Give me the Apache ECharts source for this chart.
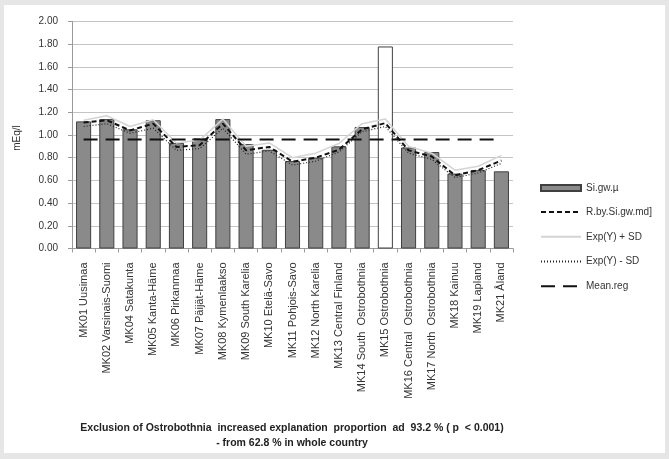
<!DOCTYPE html>
<html>
<head>
<meta charset="utf-8">
<script src="https://cdn.jsdelivr.net/npm/echarts@6/dist/echarts.min.js"></script>
<style>
    html, body { margin: 0; padding: 0; background: #e6e6e6; width: 669px; height: 459px; overflow: hidden; }
    #chart { position: absolute; left: 4px; top: 5px; width: 661px; height: 448px; background: #ffffff; }
</style>
</head>
<body>
<div id="chart"></div>
<script>
// 数据
const regions = ['MK01 Uusimaa', 'MK02 Varsinais-Suomi', 'MK04 Satakunta', 'MK05 Kanta-Häme', 'MK06 Pirkanmaa',
    'MK07 Päijät-Häme', 'MK08 Kymenlaakso', 'MK09 South Karelia', 'MK10 Etelä-Savo', 'MK11 Pohjois-Savo',
    'MK12 North Karelia', 'MK13 Central Finland', 'MK14 South  Ostrobothnia', 'MK15 Ostrobothnia',
    'MK16 Central  Ostrobothnia', 'MK17 North  Ostrobothnia', 'MK18 Kainuu', 'MK19 Lapland', 'MK21 Åland'];
const siGwMean = [1.12, 1.14, 1.05, 1.13, 0.93, 0.97, 1.14, 0.92, 0.87, 0.77, 0.80, 0.90, 1.07, 1.78, 0.89, 0.85, 0.66, 0.69, 0.68];
const regBySiGw = [1.11, 1.13, 1.04, 1.10, 0.895, 0.91, 1.10, 0.865, 0.895, 0.765, 0.80, 0.87, 1.05, 1.105, 0.865, 0.81, 0.645, 0.69, 0.775];
const expPlusSd = [1.13, 1.17, 1.075, 1.135, 0.93, 0.955, 1.14, 0.90, 0.93, 0.80, 0.84, 0.925, 1.10, 1.14, 0.90, 0.84, 0.69, 0.725, 0.82];
const expMinusSd = [1.075, 1.10, 1.015, 1.06, 0.865, 0.88, 1.06, 0.83, 0.86, 0.735, 0.77, 0.85, 1.03, 1.075, 0.84, 0.785, 0.625, 0.665, 0.75];
const meanReg = regions.map(() => 0.96);
const excluded = 'MK15 Ostrobothnia';

document.addEventListener('DOMContentLoaded', function() {
    const chart = echarts.init(document.getElementById('chart'));
    const baseFont = 'Liberation Sans';

    const barData = siGwMean.map((v, i) => {
        if (regions[i] === excluded) {
            return { value: v, itemStyle: { color: '#ffffff' } };
        }
        return v;
    });

    // 图例中线条只画线，不画圆点
    const noDot = { opacity: 0 };

    const option = {
        animation: false,
        textStyle: { fontFamily: baseFont },
        grid: { left: 68, top: 16.5, width: 441, height: 227 },
        legend: {
            orient: 'vertical',
            left: 536,
            top: 178,
            padding: 0,
            itemWidth: 40,
            itemHeight: 14,
            itemGap: 13.5,
            textStyle: { fontSize: 10, color: '#333', fontFamily: baseFont },
            data: [
                { name: 'Si.gw.µ', icon: 'path://M0,0 H40 V6 H0 Z' },
                { name: 'R.by.Si.gw.md]', itemStyle: noDot },
                { name: 'Exp(Y) + SD', itemStyle: noDot },
                { name: 'Exp(Y) - SD', itemStyle: noDot },
                { name: 'Mean.reg', itemStyle: noDot }
            ]
        },
        xAxis: {
            type: 'category',
            data: regions,
            axisLine: { lineStyle: { color: '#9a9a9a' } },
            axisTick: { show: true, length: 4, lineStyle: { color: '#9a9a9a' } },
            axisLabel: { rotate: 90, interval: 0, fontSize: 11, margin: 14, color: '#333' }
        },
        yAxis: {
            type: 'value',
            min: 0,
            max: 2,
            interval: 0.2,
            name: 'mEq/l',
            nameLocation: 'middle',
            nameGap: 50,
            nameTextStyle: { fontSize: 10, color: '#333', padding: [0, 0, 0, -6] },
            axisLine: { show: true, lineStyle: { color: '#9a9a9a' } },
            axisTick: { show: true, length: 4, lineStyle: { color: '#9a9a9a' } },
            axisLabel: { fontSize: 10, color: '#333', margin: 14, formatter: v => v.toFixed(2) },
            splitLine: { lineStyle: { color: '#c4c4c4' } }
        },
        series: [
            {
                name: 'Si.gw.µ',
                type: 'bar',
                data: barData,
                barCategoryGap: '35%',
                itemStyle: { color: '#8a8a8a', borderColor: '#404040', borderWidth: 1 }
            },
            {
                name: 'R.by.Si.gw.md]',
                type: 'line',
                data: regBySiGw,
                symbol: 'none',
                lineStyle: { color: '#111', width: 2, type: [5, 3] },
                itemStyle: { color: '#111' },
                z: 4
            },
            {
                name: 'Exp(Y) + SD',
                type: 'line',
                data: expPlusSd,
                symbol: 'none',
                lineStyle: { color: '#d4d4d4', width: 1.5 },
                itemStyle: { color: '#d4d4d4' },
                z: 3
            },
            {
                name: 'Exp(Y) - SD',
                type: 'line',
                data: expMinusSd,
                symbol: 'none',
                lineStyle: { color: '#222', width: 1.2, type: [1, 2] },
                itemStyle: { color: '#222' },
                z: 3
            },
            {
                name: 'Mean.reg',
                type: 'line',
                data: meanReg,
                symbol: 'none',
                lineStyle: { color: '#111', width: 2, type: [14, 8] },
                itemStyle: { color: '#111' },
                z: 4
            }
        ],
        graphic: [
            {
                type: 'text',
                x: 288,
                y: 416,
                style: {
                    text: 'Exclusion of Ostrobothnia  increased explanation  proportion  ad  93.2 % ( p  < 0.001)\n- from 62.8 % in whole country',
                    textAlign: 'center',
                    font: 'bold 10.5px "Liberation Sans"',
                    lineHeight: 15,
                    fill: '#222'
                }
            }
        ]
    };

    chart.setOption(option);
});
</script>
</body>
</html>
